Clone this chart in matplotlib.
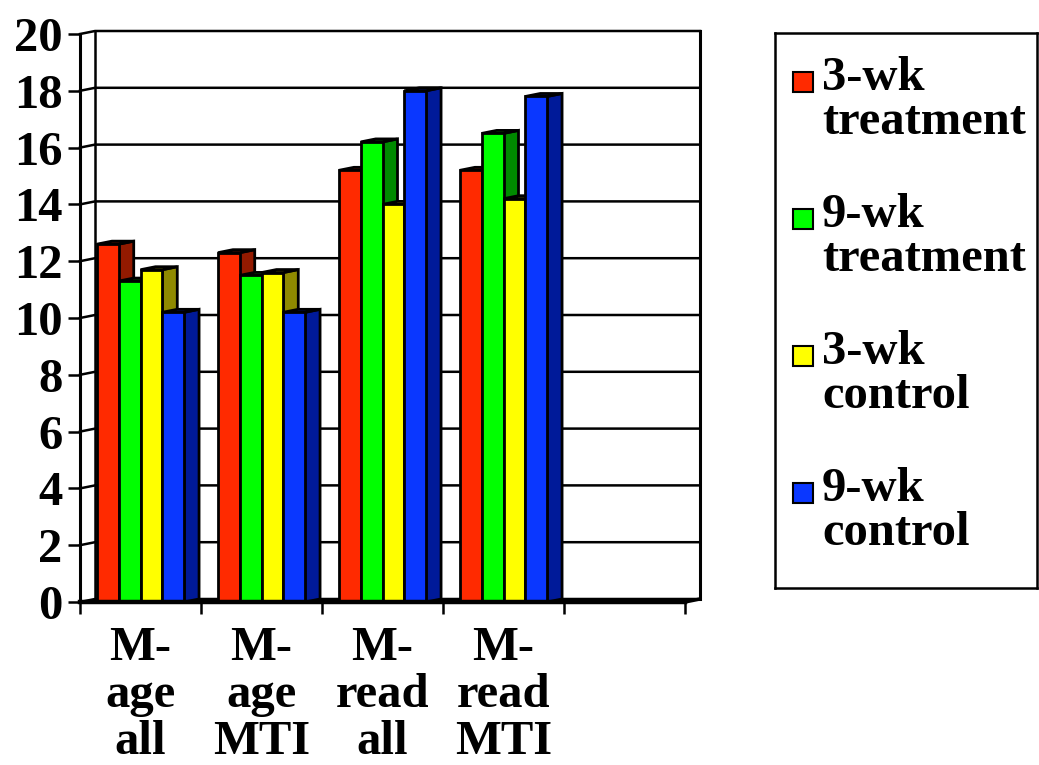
import matplotlib
matplotlib.use('Agg')
import matplotlib.pyplot as plt
from matplotlib.patches import Polygon, Rectangle

plt.rcParams['font.family'] = ['Liberation Serif', 'DejaVu Serif']
plt.rcParams['font.weight'] = 'bold'

# data
categories = ['M-\nage\nall', 'M-\nage\nMTI', 'M-\nread\nall', 'M-\nread\nMTI']
series_names = ['3-wk\ntreatment', '9-wk\ntreatment', '3-wk\ncontrol', '9-wk\ncontrol']
treat_3wk = [12.6, 12.3, 15.2, 15.2]
treat_9wk = [11.3, 11.5, 16.2, 16.5]
control_3wk = [11.7, 11.6, 14.0, 14.2]
control_9wk = [10.2, 10.2, 18.0, 17.8]
series = [treat_3wk, treat_9wk, control_3wk, control_9wk]
yticks = list(range(0, 21, 2))
n_slots = 5  # last slot is empty in the original

front_colors = ['#ff2a00', '#00ff00', '#ffff00', '#0a37ff']
side_colors = ['#931a00', '#008a00', '#8f8a00', '#001a99']

# 3D look
DX = 15 / 121.0   # depth offset in category units
DY = 3 / 28.4     # depth offset in value units
BAR_W = 0.18
BAR_START = 0.14
LW = 2.0
FS = 35

W, H = 1039, 765
fig = plt.figure(figsize=(W / 100, H / 100), dpi=100)
ax = fig.add_axes([80 / W, (H - 602) / H, (700 - 80) / W, (602 - 31) / H])
ax.set_xlim(0, n_slots + DX)
ax.set_ylim(0, 20 + DY)

# back wall + grid
for v in yticks:
    ax.plot([0, DX, n_slots + DX], [v, v + DY, v + DY], color='black', lw=1.8, zorder=1,
            clip_on=False, solid_joinstyle='miter')
ax.plot([DX, DX], [DY, 20 + DY], color='black', lw=1.8, zorder=1, clip_on=False)
ax.plot([n_slots + DX, n_slots + DX], [DY, 20 + DY], color='black', lw=2.2, zorder=1, clip_on=False)
ax.plot([n_slots, n_slots + DX], [0, DY], color='black', lw=2.5, zorder=1, clip_on=False)

# bars
z = 2
for i in range(len(categories)):
    for j, vals in enumerate(series):
        v = vals[i]
        x0 = i + BAR_START + j * BAR_W
        x1 = x0 + BAR_W
        side = Polygon([(x1, 0), (x1 + DX, DY), (x1 + DX, v + DY), (x1, v)], closed=True,
                       facecolor=side_colors[j], edgecolor='black', lw=LW, zorder=z,
                       joinstyle='miter')
        top = Polygon([(x0, v), (x0 + DX, v + DY), (x1 + DX, v + DY), (x1, v)], closed=True,
                      facecolor=side_colors[j], edgecolor='black', lw=LW, zorder=z,
                      joinstyle='miter')
        front = Rectangle((x0, 0), BAR_W, v, facecolor=front_colors[j], edgecolor='black',
                          lw=LW, zorder=z + 0.5, joinstyle='miter')
        ax.add_patch(side)
        ax.add_patch(top)
        ax.add_patch(front)
        z += 1

# axes
for s in ['top', 'right']:
    ax.spines[s].set_visible(False)
ax.spines['left'].set_bounds(0, 20)
ax.spines['left'].set_linewidth(2.2)
ax.spines['bottom'].set_bounds(0, n_slots)
ax.spines['bottom'].set_linewidth(3.2)
ax.spines['left'].set_zorder(50)
ax.spines['bottom'].set_zorder(50)

ax.set_yticks(yticks)
ax.set_yticklabels([str(t) for t in yticks], fontsize=FS, fontweight='bold')
ax.tick_params(axis='y', length=8.6, width=1.8, pad=4)

ax.set_xticks(range(n_slots + 1))
ax.set_xticklabels([])
ax.tick_params(axis='x', which='major', length=8.6, width=1.8, direction='out')
ax.set_xticks([i + 0.5 for i in range(len(categories))], minor=True)
ax.set_xticklabels(categories, minor=True, fontsize=FS, fontweight='bold', linespacing=1.1)
ax.tick_params(axis='x', which='minor', length=0, pad=17)

# legend box
leg_ax = fig.add_axes([775 / W, (H - 588) / H, (1037 - 775) / W, (588 - 33) / H])
leg_ax.set_xlim(0, 1)
leg_ax.set_ylim(0, 1)
leg_ax.set_xticks([])
leg_ax.set_yticks([])
for s in leg_ax.spines.values():
    s.set_linewidth(1.8)
entry_h = 137 / 555.0
for j, name in enumerate(series_names):
    yc = 1 - (82 - 33) / 555.0 - j * entry_h
    leg_ax.add_patch(Rectangle((18 / 262, yc - 10 / 555), 20 / 262, 20 / 555,
                               facecolor=front_colors[j], edgecolor='black', lw=1.5))
    leg_ax.text(47 / 262, yc + 26 / 555, name, fontsize=FS, fontweight='bold',
                va='top', ha='left', linespacing=1.0)

fig.savefig('out.png', dpi=100)
